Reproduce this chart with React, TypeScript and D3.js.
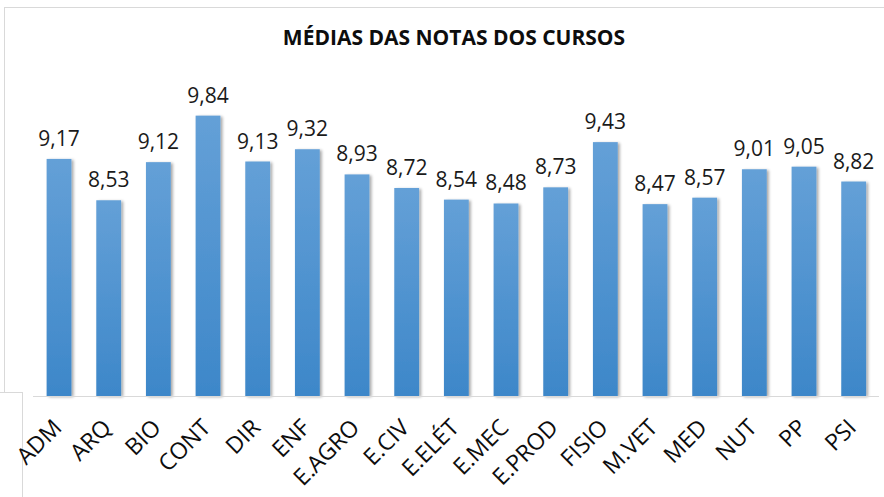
import React from "react";
import * as d3 from "d3";

const categories = ["ADM","ARQ","BIO","CONT","DIR","ENF","E.AGRO","E.CIV","E.ELÉT","E.MEC","E.PROD","FISIO","M.VET","MED","NUT","PP","PSI"];
const values = [9.17,8.53,9.12,9.84,9.13,9.32,8.93,8.72,8.54,8.48,8.73,9.43,8.47,8.57,9.01,9.05,8.82];
const title = "MÉDIAS DAS NOTAS DOS CURSOS";

const W = 884, H = 497;
const FONT = "'Open Sans', 'Noto Sans', sans-serif";

export default function App() {
  const x = d3.scaleBand<string>().domain(categories).range([34.2, 878.5]).paddingInner(0.5).paddingOuter(0.25);
  const y = d3.scaleLinear().domain([5.5, 10]).range([396, 105.3]);
  const fmt = (v: number) => d3.format(".2f")(v).replace(".", ",");
  return (
    <div style={{ position: "absolute", left: 0, top: 0, width: W, height: H, background: "#fff" }}>
      <svg width={W} height={H} style={{ display: "block" }}>
        <defs>
          <linearGradient id="barGrad" x1="0" y1="0" x2="0" y2="1">
            <stop offset="0%" stopColor="#64a0d7" />
            <stop offset="100%" stopColor="#3d87c9" />
          </linearGradient>
          <filter id="shadow" x="-30%" y="-10%" width="160%" height="120%">
            <feGaussianBlur in="SourceAlpha" stdDeviation="1.5" />
            <feOffset dx="2" dy="1" result="b" />
            <feComponentTransfer><feFuncA type="linear" slope="0.35" /></feComponentTransfer>
            <feMerge><feMergeNode /><feMergeNode in="SourceGraphic" /></feMerge>
          </filter>
        </defs>
        {/* borders */}
        <line x1={4} x2={W} y1={7.5} y2={7.5} stroke="#d9d9d9" />
        <line x1={4.5} x2={4.5} y1={7} y2={392} stroke="#d9d9d9" />
        <line x1={0} x2={22} y1={392.5} y2={392.5} stroke="#d9d9d9" />
        <line x1={22.5} x2={22.5} y1={392} y2={H} stroke="#d9d9d9" />
        <text x={454} y={45} textAnchor="middle" fontFamily={FONT} fontWeight={700} fontSize={21} fill="#0d0d0d">{title}</text>
        {categories.map((c, i) => {
          const bx = x(c)!;
          const bw = x.bandwidth();
          const top = y(values[i]);
          return (
            <g key={c}>
              <rect x={bx} y={top} width={bw} height={y(5.5) - top} fill="url(#barGrad)" filter="url(#shadow)" />
              <text x={bx + bw / 2} y={top - 13} textAnchor="middle" fontFamily={FONT} fontSize={21} fill="#1a1a1a">{fmt(values[i])}</text>
            </g>
          );
        })}
        <line x1={33} x2={879} y1={396.5} y2={396.5} stroke="#d9d9d9" />
        {categories.map((c) => {
          const cx = x(c)! + x.bandwidth() / 2 + 4;
          const cy = 429;
          return (
            <text key={c} x={cx} y={cy} textAnchor="end" transform={`rotate(-45 ${cx} ${cy})`} fontFamily={FONT} fontSize={23} fill="#0d0d0d">{c}</text>
          );
        })}
      </svg>
    </div>
  );
}
